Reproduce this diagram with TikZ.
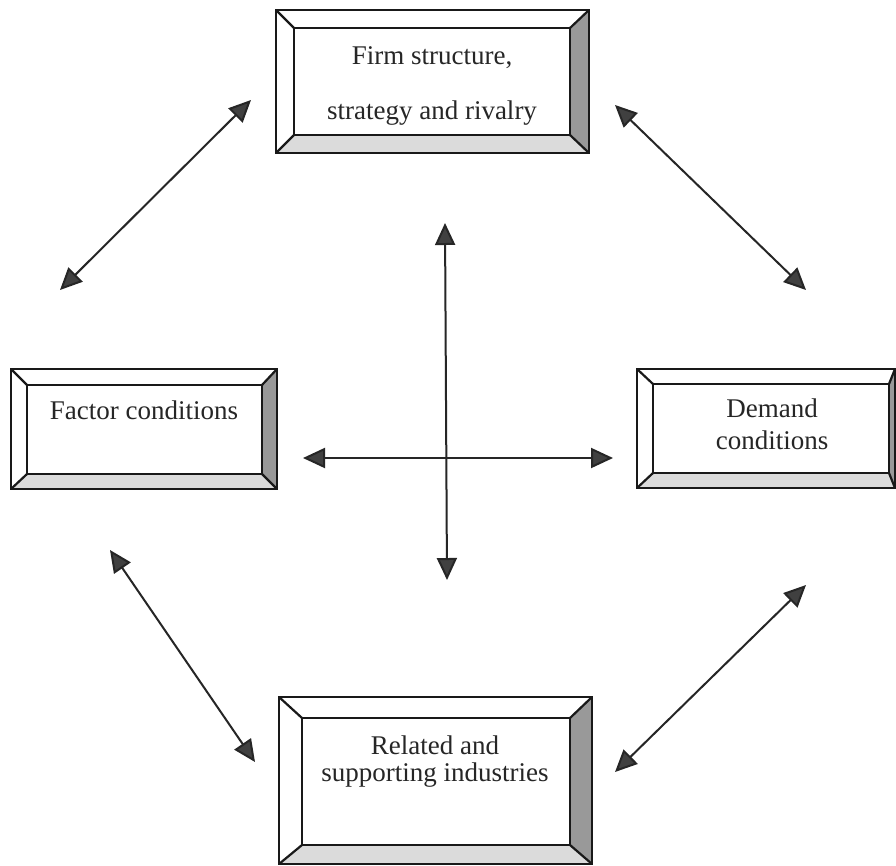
\documentclass[tikz,border=0pt]{standalone}
\usepackage{fontspec}
\setmainfont{Liberation Serif}
\usetikzlibrary{arrows.meta,fit}
\tikzset{
  boxline/.style={draw=black!90, line width=2.2pt, line join=miter},
  bevright/.style={fill=black!40},
  bevbottom/.style={fill=black!14},
  lbl/.style={font=\fontsize{27}{31}\selectfont, inner sep=0pt, text=black!85},
  dbl/.style={draw=black!85, line width=2pt,
    {Triangle[length=22pt,width=20pt,fill=black!75]}-{Triangle[length=22pt,width=20pt,fill=black!75]}}
}
\newcommand{\bevbox}[9]{%
  \fill[bevright] (#4,#3) -- (#8,#7) -- (#8,#9) -- (#4,#5) -- cycle;
  \fill[bevbottom] (#2,#5) -- (#6,#9) -- (#8,#9) -- (#4,#5) -- cycle;
  \draw[boxline] (#2,#3) rectangle (#4,#5);
  \draw[boxline] (#6,#7) rectangle (#8,#9);
  \draw[boxline] (#2,#3) -- (#6,#7) (#4,#3) -- (#8,#7) (#2,#5) -- (#6,#9) (#4,#5) -- (#8,#9);
  \path (#6,#7) coordinate (#1-nw) (#8,#9) coordinate (#1-se);
  \node[inner sep=0pt, fit=(#1-nw)(#1-se)] (#1) {};
}
\begin{document}
\begin{tikzpicture}[x=1pt,y=-1pt]
\useasboundingbox (0,0) rectangle (896,865);
\fill[white] (0,0) rectangle (896,865);

\bevbox{firm}{276}{10}{589}{153}{294}{28}{570}{135}
\bevbox{factor}{11}{369}{277}{489}{27}{385}{262}{474}
\bevbox{demand}{637}{369}{895}{488}{653}{384}{889}{473}
\bevbox{related}{279}{697}{592}{864}{302}{718}{570}{845}

\node[lbl] (firmA) at (432,58) {Firm structure,};
\node[lbl] (firmB) at (432,113) {strategy and rivalry};
\node[lbl] (factorT) at (144,410) {Factor conditions};
\node[lbl] (demandA) at (772,408) {Demand};
\node[lbl] (demandB) at (772,440) {conditions};
\node[lbl] (relA) at (435,745) {Related and};
\node[lbl] (relB) at (435,775) {supporting industries};

\coordinate (tlA) at (60,290);  \coordinate (tlB) at (251,100);
\coordinate (trA) at (615,105); \coordinate (trB) at (806,290);
\coordinate (blA) at (110,550); \coordinate (blB) at (255,762);
\coordinate (brA) at (806,585); \coordinate (brB) at (615,772);
\coordinate (vT) at (445,223);  \coordinate (vB) at (447,580);
\coordinate (hL) at (303,458);  \coordinate (hR) at (613,458);

\draw[dbl] (tlA) -- (tlB);
\draw[dbl] (trA) -- (trB);
\draw[dbl] (blA) -- (blB);
\draw[dbl] (brA) -- (brB);
\draw[dbl] (vT) -- (vB);
\draw[dbl] (hL) -- (hR);
\end{tikzpicture}
\end{document}
